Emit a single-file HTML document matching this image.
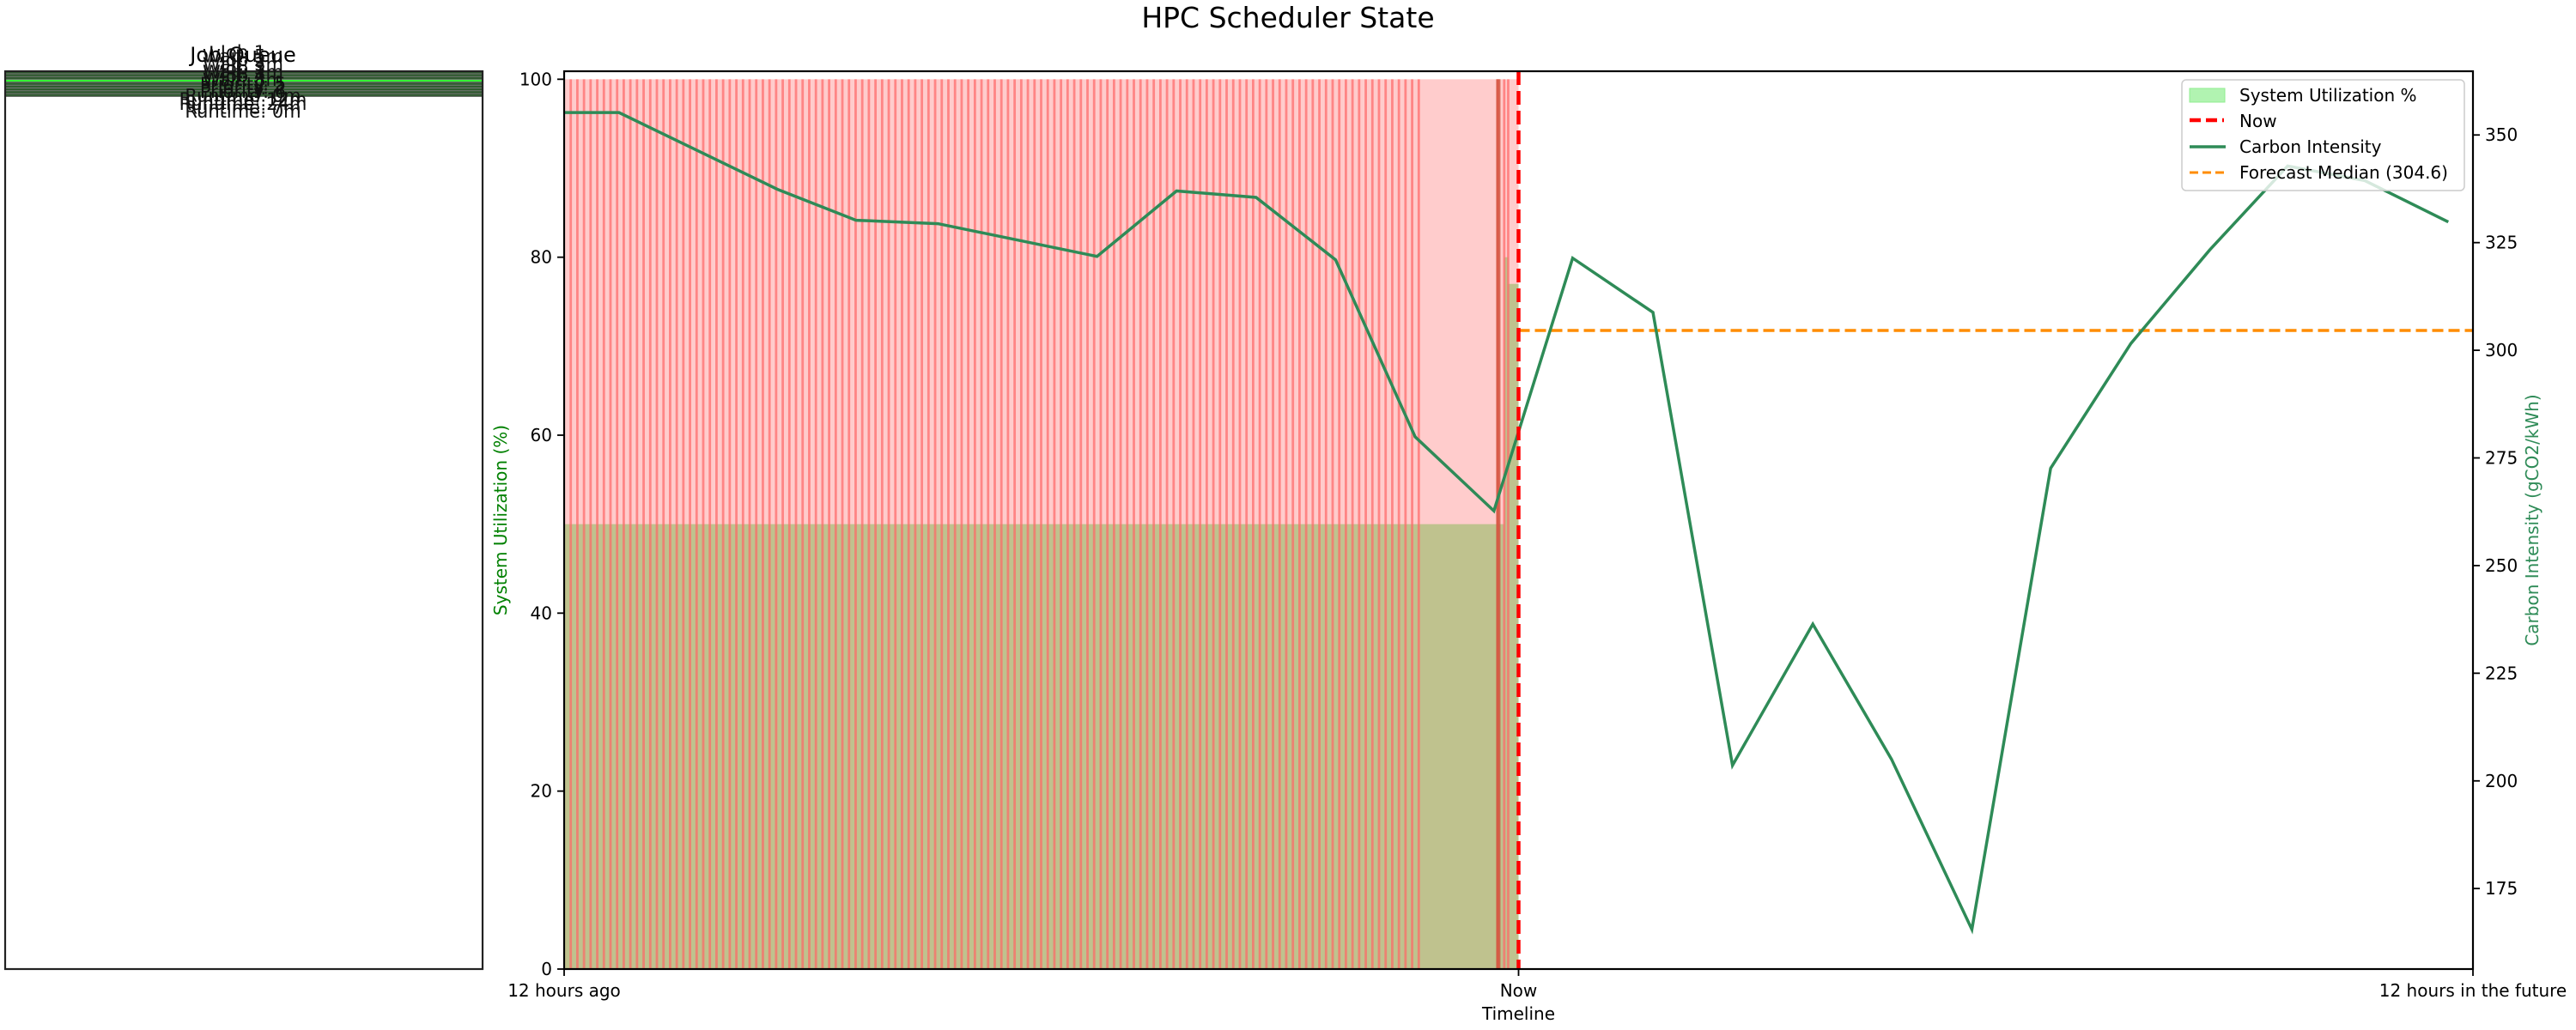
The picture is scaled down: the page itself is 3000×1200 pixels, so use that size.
<!DOCTYPE html>
<html><head><meta charset="utf-8">
<style>
html,body{margin:0;padding:0;background:#fff;}
svg{display:block;font-family:"DejaVu Sans","Liberation Sans",sans-serif;}
</style></head>
<body>
<svg id="chart" width="3000" height="1200" viewBox="0 0 3000 1200" xmlns="http://www.w3.org/2000/svg">
<text x="1500" y="32" font-size="33" text-anchor="middle">HPC Scheduler State</text>
<g id="queue"></g>
<g id="main"></g>
</svg>
<script>
// ---- data ----
const carbonHours = [-12, -11.31, -9.32, -8.33, -7.3, -5.3, -4.3, -3.3, -2.3, -1.3, -0.31, 0.68, 1.69, 2.69, 3.7, 4.69, 5.7, 6.69, 7.7, 8.69, 9.67, 10.64, 11.69];
const carbonValues = [355.2, 355.2, 337.4, 330.2, 329.4, 321.8, 337, 335.5, 321, 279.9, 262.7, 321.4, 308.8, 203.6, 236.4, 205, 165.5, 272.6, 301.6, 323.3, 342.8, 339.4, 329.8];
const forecastMedian = 304.6;
const utilStarts = [-12, -0.26, -0.18, -0.13];
const utilEnds = [-0.26, -0.18, -0.13, 0];
const utilValues = [50, 50, 80, 77];
const leftTicks = [0, 20, 40, 60, 80, 100];
const rightTicks = [175, 200, 225, 250, 275, 300, 325, 350];
const xTickHours = [-12, 0, 12];
const xTickLabels = ["12 hours ago", "Now", "12 hours in the future"];
const jobLabels = ["Job 1","Wait: 5m","Job 2","Wait: 3m","Job 3","Wait: 1m","Job 4","Wait: 8m","Priority: 5","Priority: 2","Priority: 6","Runtime: 0m","Runtime: 12m","Runtime: 24m","Runtime: 7m","Runtime: 0m"];

// ---- geometry ----
const L=657,R=2880,T=83,B=1129;
const NS="http://www.w3.org/2000/svg";
const xs=h=>L+(h+12)/24*(R-L);
const yl=v=>B-v/100.9*(B-T);
const yr=v=>B-(v-156.3)/(364.8-156.3)*(B-T);
function el(tag,attrs,parent){const e=document.createElementNS(NS,tag);for(const k in attrs)e.setAttribute(k,attrs[k]);parent.appendChild(e);return e;}
const main=document.getElementById('main');

const pink=el('rect',{x:xs(-12),y:yl(100),width:xs(0)-xs(-12),height:yl(0)-yl(100),fill:'#ffcccc'},main);


for(let i=0;i<utilValues.length;i++){
  const r=el('rect',{x:xs(utilStarts[i]),y:yl(utilValues[i]),width:xs(utilEnds[i])-xs(utilStarts[i]),height:yl(0)-yl(utilValues[i]),fill:'#bfc28e'},main);
  
  
}
const jl=el('g',{stroke:'#ff6666','stroke-opacity':'0.7','stroke-width':'2.8'},main);


for(let h=-12+0.083;h<-1.24;h+=0.0833){el('line',{x1:xs(h),x2:xs(h),y1:yl(100),y2:yl(0)},jl);}
[-0.26,-0.18,-0.13].forEach(h=>el('line',{x1:xs(h),x2:xs(h),y1:yl(100),y2:yl(0)},jl));
const dk=el('rect',{x:xs(-0.26)-2,y:yl(100),width:5,height:yl(0)-yl(100),fill:'#d0503a','fill-opacity':'0.8'},main);



const fm=el('line',{x1:xs(0),x2:xs(12),y1:yr(forecastMedian),y2:yr(forecastMedian),stroke:'#ff8c00','stroke-width':'3.5','stroke-dasharray':'13 6'},main);


const pts=carbonHours.map((h,i)=>xs(h)+','+yr(carbonValues[i])).join(' ');
const cl=el('polyline',{points:pts,fill:'none',stroke:'#2e8b57','stroke-width':'3.5','stroke-linejoin':'miter'},main);


const nl=el('line',{x1:xs(0),x2:xs(0),y1:T,y2:B,stroke:'#ff0000','stroke-width':'4.5','stroke-dasharray':'16 7'},main);



const fr=el('rect',{x:L,y:T,width:R-L,height:B-T,fill:'none',stroke:'#000','stroke-width':'2.2'},main);



leftTicks.forEach(v=>{
  el('line',{x1:L,x2:L-8,y1:yl(v),y2:yl(v),stroke:'#000','stroke-width':'1.8'},main);
  const t=el('text',{x:L-14,y:yl(v)+7,'font-size':'20','text-anchor':'end'},main);t.textContent=v;
  
  
});
rightTicks.forEach(v=>{
  el('line',{x1:R,x2:R+8,y1:yr(v),y2:yr(v),stroke:'#000','stroke-width':'1.8'},main);
  const t=el('text',{x:R+14,y:yr(v)+7,'font-size':'20'},main);t.textContent=v;
  
  
});
xTickHours.forEach((h,i)=>{
  el('line',{x1:xs(h),x2:xs(h),y1:B,y2:B+8,stroke:'#000','stroke-width':'1.8'},main);
  const t=el('text',{x:xs(h),y:B+32,'font-size':'20','text-anchor':'middle'},main);t.textContent=xTickLabels[i];
  
  
});
let t=el('text',{x:xs(0),y:1188,'font-size':'20','text-anchor':'middle'},main);t.textContent='Timeline';


t=el('text',{x:590,y:606,'font-size':'20','text-anchor':'middle',fill:'#008000',transform:'rotate(-90 590 606)'},main);t.textContent='System Utilization (%)';


t=el('text',{x:2956,y:606,'font-size':'20','text-anchor':'middle',fill:'#2e8b57',transform:'rotate(-90 2956 606)'},main);t.textContent='Carbon Intensity (gCO2/kWh)';



const lg=el('g',{},main);


el('rect',{x:2541,y:93,width:329,height:129,rx:5,fill:'#fff','fill-opacity':'0.8',stroke:'#cccccc','stroke-width':'1.5'},lg);
el('rect',{x:2550,y:103,width:41,height:16,fill:'#90ee90','fill-opacity':'0.7',stroke:'#90ee90'},lg);
el('line',{x1:2550,x2:2590,y1:140,y2:140,stroke:'#ff0000','stroke-width':'4.5','stroke-dasharray':'13 6'},lg);
el('line',{x1:2550,x2:2592,y1:171,y2:171,stroke:'#2e8b57','stroke-width':'3.5'},lg);
el('line',{x1:2550,x2:2592,y1:201,y2:201,stroke:'#ff8c00','stroke-width':'3','stroke-dasharray':'10 5'},lg);
const ln=['System Utilization %','Now','Carbon Intensity','Forecast Median ('+forecastMedian.toFixed(1)+')'];
const ly=[118,148,178,208];
ln.forEach((s,i)=>{const x=el('text',{x:2608,y:ly[i],'font-size':'20'},lg);x.textContent=s;
  
  });

const q=document.getElementById('queue');
const qb=el('rect',{x:6,y:83,width:556,height:30,fill:'#2f5a2f'},q);


for(let i=0;i<9;i++){el('line',{x1:6,x2:562,y1:86+i*3.3,y2:86+i*3.3,stroke:'#777','stroke-width':'1'},q);}
el('line',{x1:6,x2:562,y1:94,y2:94,stroke:'#33ff33','stroke-width':'2'},q);
el('rect',{x:6,y:83,width:556,height:1046,fill:'none',stroke:'#222','stroke-width':'2.2'},q);
t=el('text',{x:283,y:72,'font-size':'24','text-anchor':'middle'},q);t.textContent='Job Queue';


jobLabels.forEach((s,i)=>{
  const x=el('text',{x:283,y:68+i*4.6,'font-size':'21','text-anchor':'middle','fill':'#111'},q);x.textContent=s;
  
  
});
</script>
</body></html>
